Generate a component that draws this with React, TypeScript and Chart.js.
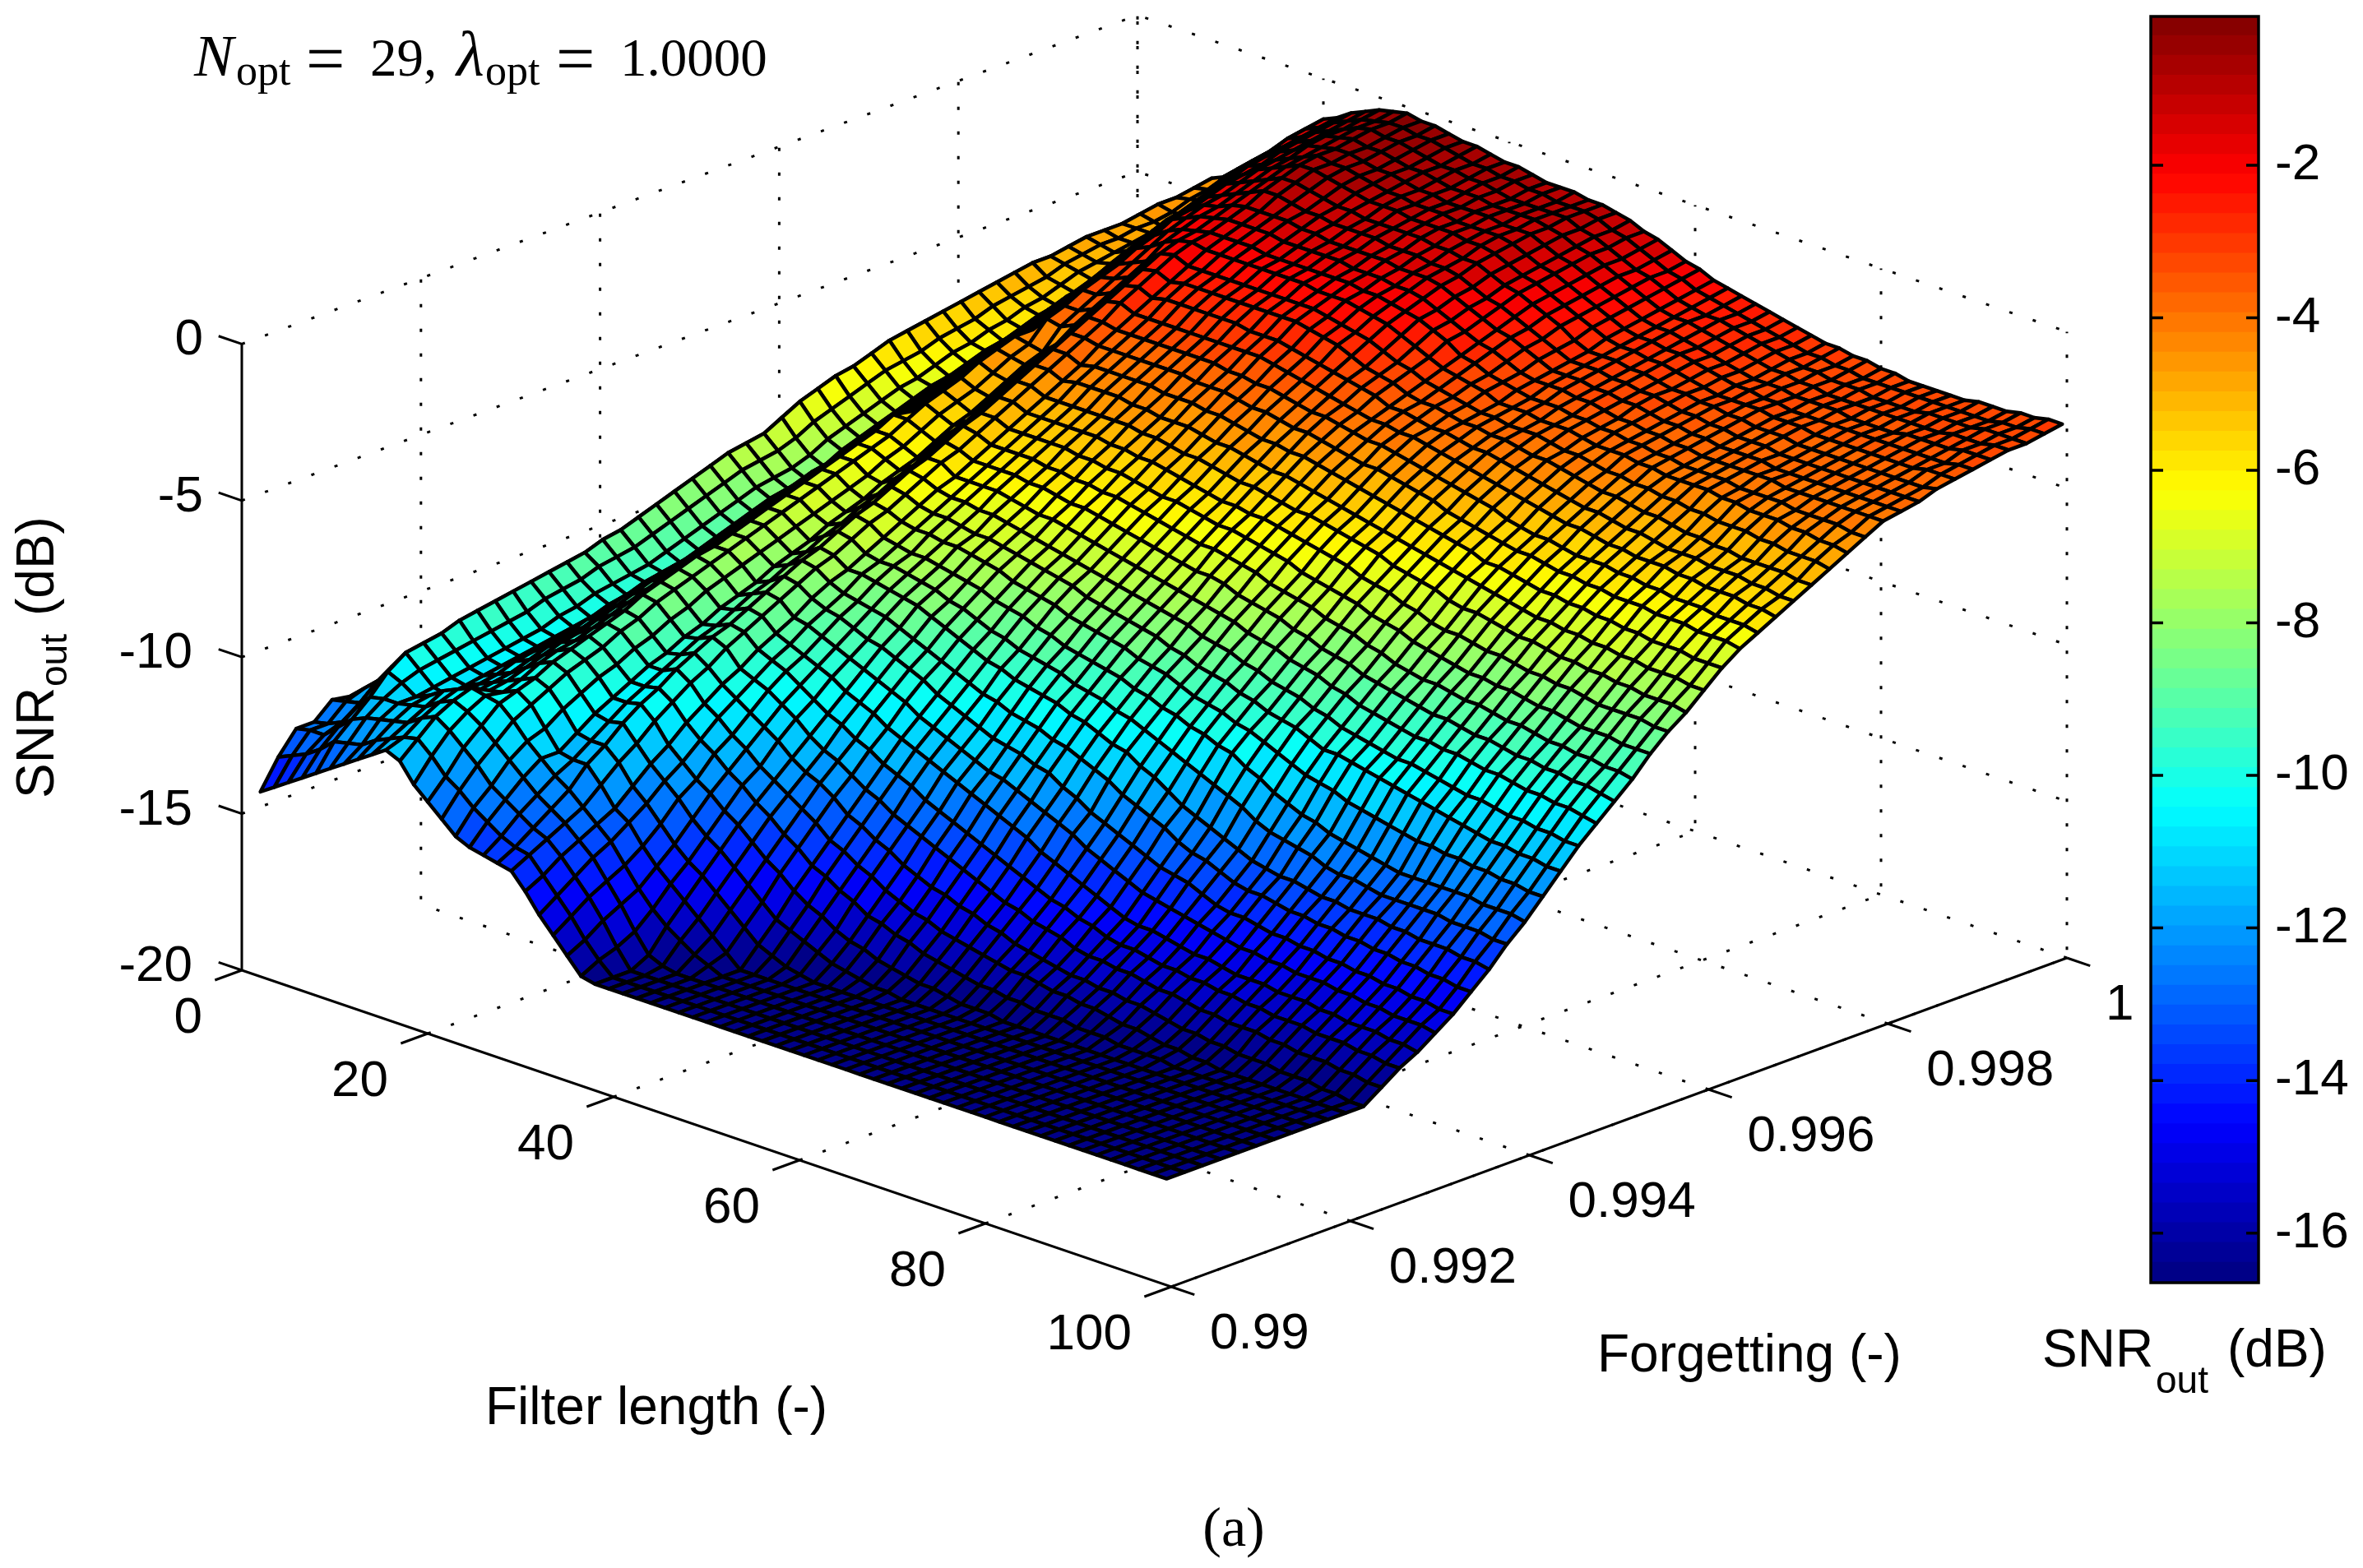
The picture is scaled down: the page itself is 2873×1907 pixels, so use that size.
import { useEffect, useRef } from "react";
import { Chart, registerables } from "chart.js";
Chart.register(...registerables);

// Axis ticks
const filterTicks = [0, 20, 40, 60, 80, 100];
const forgettingTicks = [0.99, 0.992, 0.994, 0.996, 0.998, 1];
const snrTicks = [0, -5, -10, -15, -20];
const colorbarTicks = [-2, -4, -6, -8, -10, -12, -14, -16];

// Mesh positions
const filterLengths = [2,3.5,5,6.5,8,9.5,11,12.5,14,15.5,17,18.5,20,21.5,23,24.5,26,27.5,29,30.5,32,33.5,35,36.5,38,39.5,41,42.5,44,45.5,47,48.5,50,51.5,53,54.5,56,57.5,59,60.5,62,63.5,65,66.5,68,69.5,71,72.5,74,75.5,77,78.5,80,81.5,83,84.5,86,87.5,89,90.5,92,93.5,95,96.5,98,99.5];
const forgettingFactors = [0.99,0.9902,0.9904,0.9906,0.9908,0.991,0.9912,0.9914,0.9916,0.9918,0.992,0.9922,0.9924,0.9926,0.9928,0.993,0.9932,0.9934,0.9936,0.9938,0.994,0.9942,0.9944,0.9946,0.9948,0.995,0.9952,0.9954,0.9956,0.9958,0.996,0.9962,0.9964,0.9966,0.9968,0.997,0.9972,0.9974,0.9976,0.9978,0.998,0.9982,0.9984,0.9986,0.9988,0.999,0.9992,0.9994,0.9996,0.9998,1];

// SNR_out, in tenths of a dB below 0. One row per forgetting factor.
// A row that stops early stays on the floor value for the remaining filter lengths.
const floorTenths = 166;
const snrTenthsBelowZero = [
[141,138,135,132,129,126,123,120,117,114,116,122,126,130,134,136,137,138,139,144,150,155,160,165,166],
[132,130,128,125,121,120,119,116,114,112,111,115,120,123,127,130,133,135,136,141,146,151,157,162,166],
[125,124,124,120,116,114,113,112,111,108,106,109,113,117,122,125,128,131,133,137,142,147,153,160,166],
[125,124,122,116,111,110,110,109,108,105,103,105,108,112,116,120,124,127,130,134,138,144,150,157,163,165],
[120,119,118,111,105,107,110,108,105,103,101,102,103,107,112,116,120,123,127,131,135,141,147,152,156,159,162,164],
[121,117,113,107,101,105,109,110,108,106,104,103,101,104,110,116,117,117,122,128,131,137,142,146,150,154,158,162],
[121,116,112,106,100,104,108,109,107,105,103,101,99,101,106,112,113,113,117,123,127,132,137,141,144,148,152,156,160,162,164,165],
[120,115,110,105,99,103,107,108,106,104,101,98,96,98,103,108,109,108,113,118,122,126,131,135,138,142,146,150,154,156,158,160,162,163,164,165,165],
[120,114,109,103,97,102,106,107,104,102,99,96,94,96,100,105,105,104,108,114,118,122,125,129,132,136,140,143,147,150,152,155,157,158,160,161,162,163,163,164,165,165,165],
[118,113,108,102,96,101,105,106,103,100,97,95,92,94,98,102,102,101,104,109,113,116,120,123,127,130,134,137,141,143,146,148,151,152,154,155,157,158,159,160,161,161,162,162,163,163,163,164,164,164,165,165,165,165],
[117,112,107,101,95,100,104,105,102,99,96,93,90,91,95,99,99,97,100,105,108,112,115,119,122,125,128,131,135,137,140,142,145,147,149,150,152,153,154,155,156,157,157,158,159,159,160,160,161,162,162,163,164,164,165,165],
[116,111,106,100,94,99,103,104,101,98,94,91,88,89,93,97,96,94,97,101,104,107,110,113,117,120,122,125,129,131,134,136,139,141,143,144,146,147,149,150,152,153,154,155,156,156,157,157,158,158,159,160,161,161,162,162,163,163,163,164,164,164,165,165,166,166],
[116,110,105,99,93,97,101,103,99,96,92,89,85,86,90,94,93,91,93,98,100,102,105,108,112,115,117,120,123,125,128,130,132,134,136,138,140,142,144,145,147,148,149,151,152,152,153,153,154,155,155,156,157,157,158,158,158,159,159,160,160,160,161,161,162,162],
[114,109,104,98,92,96,100,102,98,95,90,87,83,84,88,92,91,89,90,94,96,98,101,104,107,109,112,114,117,119,121,124,126,128,130,132,134,136,138,140,142,143,145,146,148,149,149,150,151,151,152,152,153,153,154,154,155,155,155,156,156,156,157,157,158,158],
[113,108,103,97,91,95,98,100,96,93,88,85,81,82,85,89,88,86,87,91,93,95,97,99,102,104,106,109,111,113,115,117,119,121,123,125,127,129,132,134,136,138,140,142,144,145,145,146,147,148,148,149,150,150,150,151,151,151,152,152,153,153,153,154,154,155],
[112,106,101,95,90,93,97,99,95,91,87,83,79,80,83,87,85,83,84,88,89,91,93,95,97,99,101,103,106,108,110,112,114,116,117,119,121,123,125,127,130,132,134,136,138,139,140,141,142,143,144,145,145,146,146,147,147,147,148,148,149,149,150,150,150,151],
[110,105,100,94,88,92,96,97,93,89,85,81,78,78,81,85,83,80,81,84,86,87,89,91,92,94,96,98,101,103,105,107,109,110,111,113,114,117,119,122,124,126,128,130,132,133,134,136,138,139,139,140,141,141,142,142,143,143,144,144,145,145,146,146,147,147],
[109,104,98,93,87,91,95,96,92,88,84,80,76,76,79,82,80,77,78,81,83,84,85,86,88,90,92,94,96,98,100,101,103,104,105,107,108,110,112,114,117,119,121,123,126,128,129,131,133,134,134,135,136,136,137,137,138,138,139,139,140,140,141,141,142,142],
[107,102,96,91,85,89,93,95,91,87,83,78,74,74,77,80,78,75,76,79,79,80,81,82,83,85,87,89,91,93,94,96,97,98,99,101,102,104,106,107,110,112,115,118,120,122,124,126,128,129,130,130,131,132,132,133,133,133,134,134,135,135,135,136,136,137],
[105,100,95,89,83,87,91,93,89,85,81,76,72,72,75,78,75,72,73,76,77,77,78,79,80,82,83,85,87,88,90,91,92,93,95,96,97,99,100,102,104,106,108,110,112,114,116,119,121,122,123,124,126,127,127,128,129,129,129,129,129,130,130,130,131,131],
[103,98,93,87,81,85,89,91,87,83,79,74,70,70,73,75,73,69,70,73,74,75,75,76,77,78,79,81,82,83,85,86,88,89,90,91,92,94,95,97,98,100,101,103,104,107,109,112,114,116,117,119,120,121,122,123,124,124,124,124,124,124,125,125,125,126],
[101,96,91,85,79,83,87,89,85,81,76,72,68,68,71,73,70,67,68,70,71,71,72,72,73,74,75,77,78,79,80,82,83,84,85,86,88,89,90,92,94,95,96,98,99,101,103,105,107,108,109,111,112,113,114,115,116,116,117,117,118,118,119,119,120,120],
[99,94,89,83,77,81,85,87,83,79,74,70,66,66,69,71,68,64,65,67,68,68,69,70,70,71,72,73,74,75,76,78,79,80,81,82,83,85,86,88,89,90,92,93,95,96,97,99,101,101,102,103,104,105,106,107,108,109,110,111,112,112,113,113,114,114],
[97,92,87,81,75,79,83,85,81,77,72,68,64,64,67,68,65,61,62,64,65,65,66,66,67,68,69,70,71,72,73,74,75,76,77,78,79,80,82,83,84,86,87,89,90,91,93,94,96,97,98,99,100,100,101,102,103,104,104,105,106,106,107,107,108,108],
[96,91,86,80,74,78,82,84,80,75,71,66,62,62,64,66,63,59,59,62,62,62,62,63,64,65,65,66,67,68,69,70,71,72,73,74,75,76,77,78,80,81,82,84,85,86,88,89,91,92,93,94,95,95,96,96,97,98,98,99,100,100,101,101,102,103],
[95,90,84,79,73,77,81,83,79,74,70,65,60,60,62,64,60,56,57,59,59,59,59,60,60,61,62,62,63,64,65,66,67,68,69,70,70,71,73,74,75,76,78,79,81,82,83,85,86,87,88,89,90,90,91,92,92,93,94,94,95,95,96,96,97,98],
[92,87,82,76,70,75,79,81,76,71,67,62,57,57,59,61,57,53,54,56,56,56,56,57,57,58,58,59,59,60,61,62,63,64,65,65,66,67,68,70,71,72,73,75,76,77,79,80,82,83,84,84,85,86,86,87,88,88,89,90,90,91,91,92,92,93],
[89,84,79,73,67,72,76,78,74,70,66,62,58,54,56,58,55,51,51,53,53,53,53,53,54,54,55,55,56,57,58,58,59,60,61,61,62,63,64,65,67,68,69,70,71,73,74,75,77,78,79,80,81,81,82,82,83,84,84,85,86,86,86,87,87,87],
[87,82,77,71,65,70,74,76,72,68,64,60,56,52,54,56,52,48,48,50,50,50,50,50,50,51,51,52,52,53,54,55,56,57,57,58,58,59,60,61,62,63,64,66,67,68,70,71,73,74,74,75,76,76,77,78,78,79,79,80,81,81,81,81,82,82],
[85,80,75,69,63,68,72,74,70,66,62,58,54,50,52,53,49,45,45,47,47,47,47,47,47,47,48,48,49,50,50,51,52,53,53,54,55,56,56,57,58,59,60,61,63,64,65,66,68,69,69,70,71,72,72,73,74,74,75,75,76,76,77,77,77,78],
[84,79,74,68,62,66,70,72,68,64,60,55,51,47,49,50,46,42,42,44,43,43,43,43,44,44,45,45,45,46,47,47,48,49,50,50,51,52,53,54,55,56,57,58,59,60,61,62,63,64,65,66,67,68,68,69,69,70,70,71,71,72,72,72,73,73],
[82,77,72,66,60,64,68,70,66,62,58,53,49,45,46,47,43,39,39,41,40,40,40,40,40,41,41,41,42,42,43,44,45,45,46,46,47,48,49,50,51,52,53,54,55,56,57,58,60,60,61,62,63,63,64,64,65,65,66,66,67,67,67,68,68,68],
[80,75,70,64,58,63,67,68,64,60,56,52,47,43,44,45,41,36,36,37,37,37,37,37,37,37,38,38,38,39,40,40,41,42,42,43,44,45,46,46,47,48,49,50,52,53,54,55,56,57,57,58,59,59,60,60,61,61,61,62,62,62,63,63,63,64],
[79,74,69,63,57,62,65,67,63,59,55,51,47,43,38,39,37,33,33,34,34,34,34,34,34,34,34,35,35,36,36,37,38,39,39,40,41,42,42,43,44,45,46,47,48,49,50,52,53,54,54,55,56,56,56,57,57,58,58,59,59,59,60,60,60,61],
[78,73,68,62,56,60,63,65,61,57,53,49,45,41,36,36,34,30,29,31,31,31,31,31,31,31,31,31,31,32,33,34,35,36,37,38,39,39,40,40,41,42,43,44,45,46,47,48,49,50,51,51,52,53,53,54,54,54,55,55,56,56,56,57,57,58],
[77,72,67,61,55,59,62,63,59,55,50,46,42,37,33,33,31,27,26,28,27,27,27,27,27,27,28,28,28,29,30,31,32,33,34,35,37,37,38,39,39,40,41,41,42,43,44,45,46,47,48,48,49,50,50,51,52,52,52,53,53,53,54,54,55,55],
[76,71,66,60,54,58,60,62,58,53,49,45,40,36,31,30,28,24,23,25,24,24,24,24,24,24,24,24,24,25,26,27,29,31,32,33,35,36,36,37,38,38,39,39,40,41,41,42,43,44,45,45,46,47,47,48,49,49,50,50,51,51,51,51,52,52],
[75,70,65,59,53,56,59,60,56,51,47,43,38,34,29,27,25,21,20,22,22,22,22,22,22,22,22,22,22,23,24,25,26,28,30,31,33,34,35,36,37,37,38,38,38,39,40,40,41,42,42,43,43,44,44,45,45,46,46,46,47,47,48,48,48,49],
[74,69,64,58,52,55,57,58,54,49,45,40,35,31,26,24,21,19,18,19,19,19,19,19,19,19,19,20,20,20,21,22,23,25,27,29,31,32,33,34,36,36,36,37,37,37,38,39,39,39,40,40,41,41,41,41,42,42,43,43,43,44,44,45,45,46],
[73,68,63,57,51,54,56,57,52,48,44,38,33,29,24,21,19,18,17,17,17,17,18,18,18,18,18,18,18,19,19,20,21,22,24,26,29,30,32,33,34,35,35,35,36,36,37,37,38,38,39,39,40,40,40,40,41,41,41,41,42,42,42,42,43,43],
[72,67,62,56,50,53,54,55,50,45,40,35,30,26,21,19,17,16,15,15,15,15,16,16,16,16,16,17,17,17,18,18,19,21,23,25,27,28,30,32,33,33,33,34,34,35,36,36,37,37,38,38,39,39,39,39,39,39,40,40,40,40,40,40,40,40],
[72,66,61,56,50,51,52,53,48,43,38,33,28,24,20,17,16,14,13,13,13,13,14,14,15,15,15,15,15,16,16,16,17,19,21,23,25,26,28,30,32,32,32,33,33,34,34,35,36,36,37,37,38,38,38,38,39,39,39,39,39,39,39,39,39,39],
[71,66,61,55,49,50,51,50,45,40,35,30,26,22,18,16,14,12,10,10,11,12,12,13,13,13,13,14,14,14,15,15,16,18,20,21,23,25,27,29,31,31,31,32,32,33,33,34,35,35,36,36,37,37,37,38,38,38,38,38,38,38,38,38,38,38],
[70,65,60,54,48,49,50,48,43,38,33,29,24,20,16,14,12,10,8,8,9,10,11,11,12,12,12,12,12,13,13,14,14,16,18,19,21,23,25,28,30,30,30,31,31,32,33,33,34,34,35,35,36,36,36,37,37,37,37,37,37,37,37,37,37,36],
[70,65,60,54,48,49,49,47,42,37,32,27,22,18,15,12,10,8,6,6,7,8,9,10,10,10,11,11,11,11,12,12,13,15,17,18,20,22,24,26,28,29,29,30,30,31,32,33,34,34,34,34,35,35,35,36,36,36,36,36,36,36,36,35,35,35],
[70,64,59,53,48,48,48,45,40,35,30,25,20,16,14,11,9,7,5,6,6,7,8,9,9,10,10,10,11,11,11,11,12,14,16,17,19,21,23,25,27,28,28,29,29,30,31,32,33,33,34,34,35,35,35,35,35,35,35,35,35,35,35,35,34,34],
[69,64,58,53,47,48,49,43,38,32,26,22,18,15,12,10,7,6,5,5,6,7,7,8,9,9,10,10,10,10,11,11,11,13,15,16,18,20,22,24,26,27,27,28,29,30,31,32,33,33,33,34,34,34,34,35,35,35,35,34,34,34,34,33,33,33],
[68,63,58,52,46,47,47,42,36,31,25,21,17,14,11,9,6,5,4,5,5,6,7,7,8,9,9,9,10,10,10,10,11,12,14,15,17,19,21,23,25,26,26,27,28,29,30,31,32,32,33,33,34,34,34,34,34,34,34,34,34,33,33,33,32,32],
[68,62,57,51,46,45,44,39,35,30,24,20,15,13,10,8,6,4,3,4,4,5,6,7,7,8,8,9,10,10,10,10,10,12,13,15,17,19,20,22,24,25,26,26,27,28,29,30,31,32,32,33,33,33,34,34,34,34,33,33,33,33,32,32,32,32],
[67,62,56,50,45,44,42,38,33,28,23,18,14,12,9,7,5,4,3,3,4,4,5,6,7,7,8,8,9,9,10,10,10,11,13,14,16,18,20,21,23,24,25,26,27,28,29,30,31,31,32,32,33,33,33,33,33,33,33,33,33,33,32,32,31,31],
[66,61,56,50,44,42,40,36,31,27,22,17,13,11,8,6,4,3,2,3,3,4,5,5,6,7,7,8,9,9,9,10,10,11,12,14,15,17,19,20,22,23,24,25,26,27,28,29,30,30,31,31,32,32,33,33,33,33,33,32,32,32,31,31,30,30],
];

const SANS = '"Liberation Sans", Arial, sans-serif';
const SERIF = '"Liberation Serif", "Times New Roman", serif';
const CMIN = -16.65;
const CMAX = -0.05;

function jet(i: number): string {
  const v = (i + 0.5) / 64;
  const ch = (d: number) => Math.max(0, Math.min(1, 1.5 - Math.abs(4 * v - d)));
  return `rgb(${Math.round(ch(3) * 255)},${Math.round(ch(2) * 255)},${Math.round(ch(1) * 255)})`;
}
function colorIndex(z: number): number {
  return Math.max(0, Math.min(63, Math.floor(((z - CMIN) / (CMAX - CMIN)) * 64)));
}

// Fixed orthographic view of the MATLAB-style box.
function project(n: number, lam: number, z: number) {
  const t = (lam - 0.99) / 0.01;
  return { x: 294 + 11.3 * n + 1089 * t, y: 1180 + 3.85 * n - 400 * t - 38.08 * (z + 20) };
}
function snrAt(row: number, col: number): number {
  const r = snrTenthsBelowZero[row];
  return -(col < r.length ? r[col] : floorTenths) / 10;
}

function path(pts: number[][], dashed: boolean) {
  return {
    type: "scatter",
    showLine: true,
    pointRadius: 0,
    borderColor: "#000",
    borderWidth: 3,
    borderDash: dashed ? [4, 26] : [],
    data: pts.map(([n, l, z]) => project(n, l, z)),
  };
}

function buildDatasets() {
  const sets: any[] = [];
  for (const z of snrTicks) {
    if (z === -20) continue;
    sets.push(path([[0, 0.99, z], [0, 1, z], [100, 1, z]], true));
  }
  sets.push(path([[0, 1, -20], [0, 1, 0]], true));
  for (const n of filterTicks.slice(1)) {
    sets.push(path([[n, 0.99, -20], [n, 1, -20], [n, 1, 0]], true));
  }
  for (const l of forgettingTicks.slice(1)) {
    sets.push(path([[100, l, -20], [0, l, -20], [0, l, 0]], true));
  }
  sets.push(path([[0, 0.99, -20], [0, 0.99, 0]], false));
  sets.push(path([[0, 0.99, -20], [100, 0.99, -20], [100, 1, -20]], false));
  for (const z of snrTicks) sets.push(path([[0, 0.99, z], [-2.5, 0.99, z]], false));
  for (const n of filterTicks) sets.push(path([[n, 0.99, -20], [n, 0.9897, -20]], false));
  for (const l of forgettingTicks) sets.push(path([[100, l, -20], [102.5, l, -20]], false));
  return sets;
}

const surfacePlugin = {
  id: "surface",
  afterDatasetsDraw(chart: any) {
    const { ctx, scales } = chart;
    const px = (n: number, l: number, z: number) => {
      const p = project(n, l, z);
      return [scales.x.getPixelForValue(p.x), scales.y.getPixelForValue(p.y)];
    };
    ctx.save();
    ctx.lineWidth = 4.4;
    ctx.lineJoin = "round";
    ctx.strokeStyle = "#000";
    for (let r = forgettingFactors.length - 1; r > 0; r--) {
      for (let c = 0; c < filterLengths.length - 1; c++) {
        const a = px(filterLengths[c], forgettingFactors[r], snrAt(r, c));
        const b = px(filterLengths[c + 1], forgettingFactors[r], snrAt(r, c + 1));
        const d = px(filterLengths[c + 1], forgettingFactors[r - 1], snrAt(r - 1, c + 1));
        const e = px(filterLengths[c], forgettingFactors[r - 1], snrAt(r - 1, c));
        ctx.beginPath();
        ctx.moveTo(a[0], a[1]);
        ctx.lineTo(b[0], b[1]);
        ctx.lineTo(d[0], d[1]);
        ctx.lineTo(e[0], e[1]);
        ctx.closePath();
        ctx.fillStyle = jet(colorIndex(snrAt(r - 1, c)));
        ctx.fill();
        ctx.stroke();
      }
    }
    ctx.restore();
  },
};

const textPlugin = {
  id: "texts",
  afterDraw(chart: any) {
    const { ctx } = chart;
    const put = (s: string, x: number, y: number, font: string, align: CanvasTextAlign = "left") => {
      ctx.font = font;
      ctx.textAlign = align;
      ctx.textBaseline = "alphabetic";
      ctx.fillText(s, x, y);
    };
    const sans = `62px ${SANS}`;
    const label = `64px ${SANS}`;
    const sub = `46px ${SANS}`;
    ctx.save();
    ctx.fillStyle = "#000";
    for (const z of snrTicks) {
      const p = project(0, 0.99, z);
      const s = String(z);
      put(s, s.length > 2 ? 234 : 247, p.y - 9 + 22, sans, "right");
    }
    for (const n of filterTicks) {
      const p = project(n, 0.99, -20);
      put(String(n), p.x - 48, p.y + 54 + 22, sans, "right");
    }
    for (const l of forgettingTicks) {
      const p = project(100, l, -20);
      put(String(l), p.x + 47, p.y + 53 + 22, sans, "left");
    }
    put("Filter length (-)", 590, 1732, label);
    put("Forgetting (-)", 1942, 1668, label);
    put("SNR", 2483, 1662, label);
    put("out", 2621, 1694, sub);
    put("(dB)", 2708, 1662, label);

    ctx.save();
    ctx.translate(65, 971);
    ctx.rotate(-Math.PI / 2);
    put("SNR", 0, 0, label);
    put("out", 136, 16, sub);
    put("(dB)", 222, 0, label);
    ctx.restore();

    const it = `italic 72px ${SERIF}`;
    const rm = `65px ${SERIF}`;
    const eq = `84px ${SERIF}`;
    const sb = `52px ${SERIF}`;
    put("N", 236, 92, it);
    put("opt", 287, 103, sb);
    put("=", 372, 100, eq);
    put("29,", 450, 92, rm);
    put("λ", 555, 92, `italic 78px ${SERIF}`);
    put("opt", 590, 103, sb);
    put("=", 676, 100, eq);
    put("1.0000", 754, 92, rm);
    put("(a)", 1500, 1880, `68px ${SERIF}`, "center");
    ctx.restore();
  },
};

const colorbarFrame = {
  id: "frame",
  afterDatasetsDraw(chart: any) {
    const { ctx, chartArea: a, scales } = chart;
    ctx.save();
    ctx.strokeStyle = "#000";
    ctx.lineWidth = 3.5;
    ctx.strokeRect(a.left, a.top, a.right - a.left, a.bottom - a.top);
    ctx.beginPath();
    for (const v of colorbarTicks) {
      const y = scales.y.getPixelForValue(v);
      ctx.moveTo(a.left, y);
      ctx.lineTo(a.left + 15, y);
      ctx.moveTo(a.right - 15, y);
      ctx.lineTo(a.right, y);
    }
    ctx.stroke();
    ctx.restore();
  },
};

export default function App() {
  const mainRef = useRef<HTMLCanvasElement>(null);
  const barRef = useRef<HTMLCanvasElement>(null);
  useEffect(() => {
    const main = new Chart(mainRef.current as any, {
      type: "scatter",
      data: { datasets: buildDatasets() },
      plugins: [surfacePlugin, textPlugin],
      options: {
        animation: false,
        responsive: false,
        devicePixelRatio: 1,
        layout: { padding: 0 },
        plugins: { legend: { display: false }, tooltip: { enabled: false } },
        scales: {
          x: { type: "linear", min: 0, max: 2873, display: false },
          y: { type: "linear", min: 0, max: 1907, reverse: true, display: false },
        },
      },
    } as any);
    const step = (CMAX - CMIN) / 64;
    const bands = Array.from({ length: 64 }, (_, i) => ({
      data: [[CMIN + i * step, CMIN + (i + 1) * step + (i < 63 ? 0.01 : 0)]],
      backgroundColor: jet(i),
      borderWidth: 0,
      barPercentage: 1,
      categoryPercentage: 1,
      grouped: false,
    }));
    const bar = new Chart(barRef.current as any, {
      type: "bar",
      data: { labels: ["SNR"], datasets: bands },
      plugins: [colorbarFrame],
      options: {
        animation: false,
        responsive: false,
        devicePixelRatio: 1,
        layout: { padding: { left: 115, top: 20, bottom: 347, right: 0 } },
        plugins: { legend: { display: false }, tooltip: { enabled: false } },
        scales: {
          x: { display: false },
          y: {
            position: "right",
            min: CMIN,
            max: CMAX,
            grid: { display: false, drawTicks: false },
            border: { display: false },
            afterBuildTicks: (s: any) => {
              s.ticks = colorbarTicks.map((value) => ({ value }));
            },
            afterFit: (s: any) => {
              s.width = 127;
              s.paddingTop = 0;
              s.paddingBottom = 0;
            },
            ticks: {
              padding: 20,
              color: "#000",
              font: { family: SANS, size: 62 },
              callback: (v: any) => String(v),
            },
          },
        },
      },
    } as any);
    return () => {
      main.destroy();
      bar.destroy();
    };
  }, []);
  return (
    <div style={{ position: "absolute", left: 0, top: 0, width: 2873, height: 1907, background: "#fff", overflow: "hidden" }}>
      <canvas ref={mainRef} width={2873} height={1907} style={{ position: "absolute", left: 0, top: 0 }} />
      <canvas ref={barRef} width={373} height={1907} style={{ position: "absolute", left: 2500, top: 0 }} />
    </div>
  );
}
